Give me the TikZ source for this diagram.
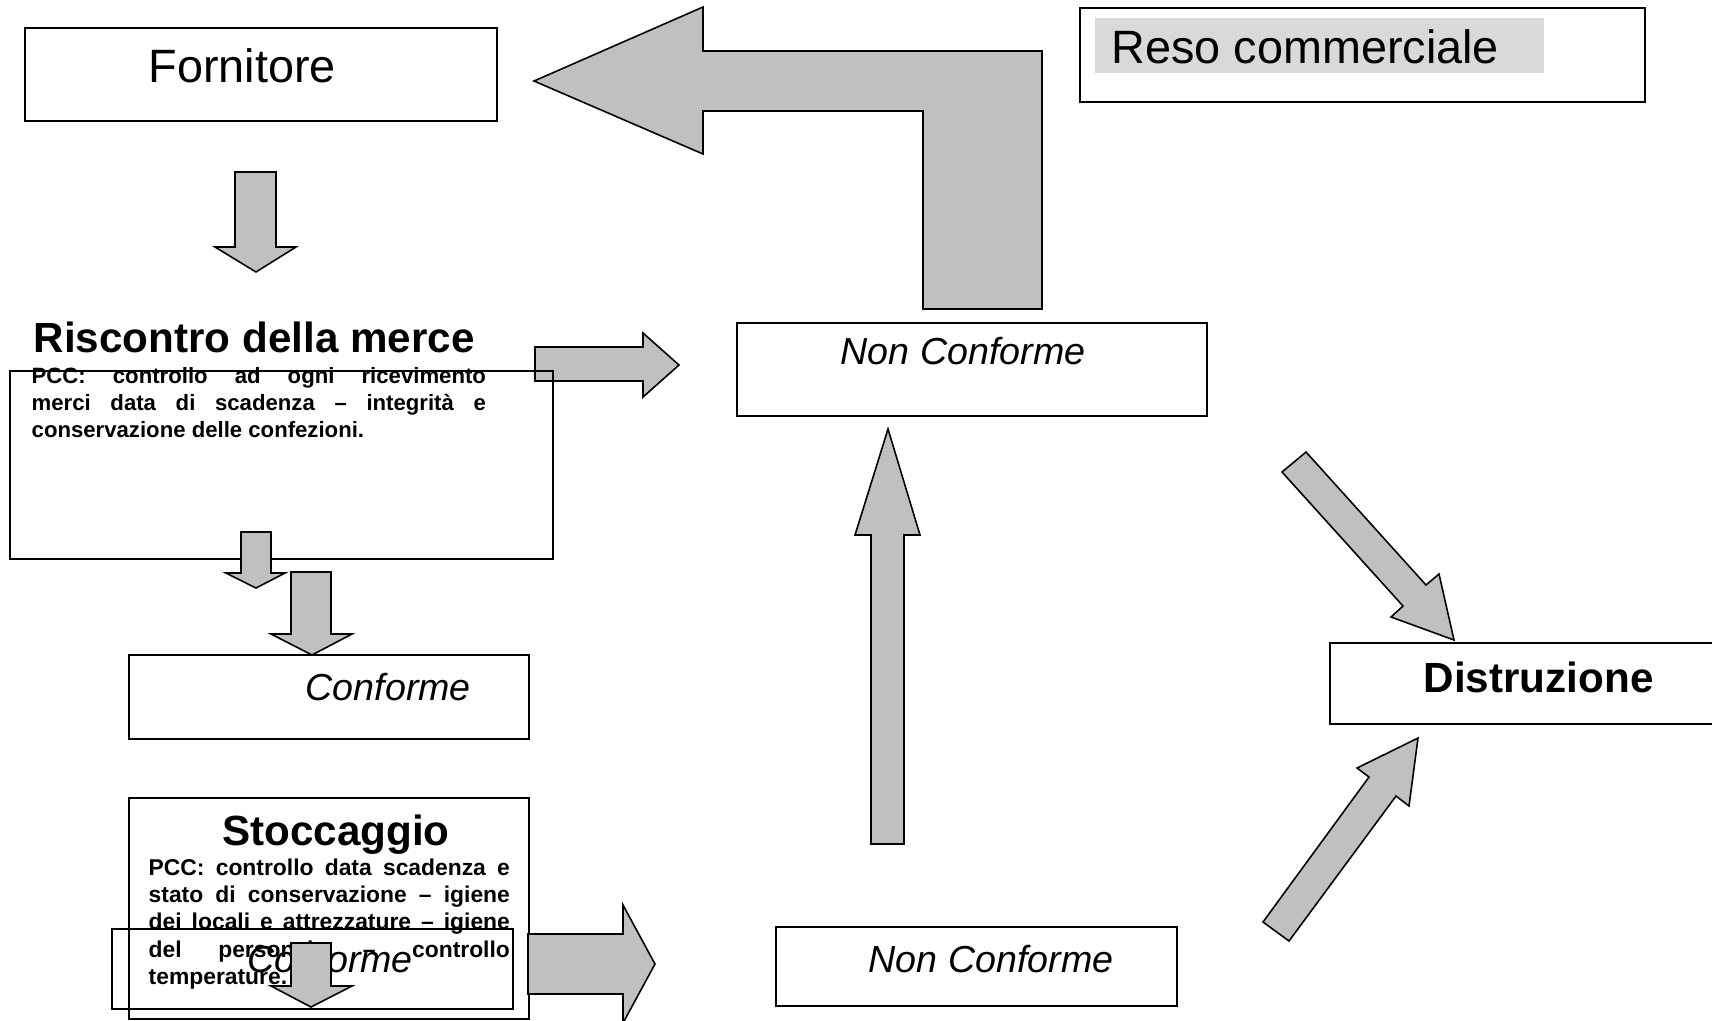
\documentclass[tikz,border=0pt]{standalone}
\usepackage{fontspec}
\setmainfont{Liberation Sans}
\usepackage{tikz}
\definecolor{arrowgray}{HTML}{C0C0C0}
\definecolor{markgray}{HTML}{D9D9D9}
\tolerance=10000
\hyphenpenalty=10000
\tikzset{
  box/.style={draw, line width=0.55pt, inner sep=0pt, anchor=north west},
  blk/.style={draw, line width=0.45pt, fill=arrowgray},
  lbl/.style={inner sep=0pt, anchor=base west},
  plain/.style={lbl, font=\fontsize{13.3}{16}\selectfont},
  head/.style={lbl, font=\fontsize{12}{14}\selectfont\bfseries},
  status/.style={lbl, font=\fontsize{10.7}{13}\selectfont\itshape},
  pcc/.style={lbl, align=justify, font=\fontsize{6.5}{7.8}\selectfont\bfseries},
}

\begin{document}
\begin{tikzpicture}[x=0.01cm, y=-0.01cm, line join=miter]
\useasboundingbox (0,0) rectangle (1712,1020);

% fornitore
\node[box, minimum width=4.72cm, minimum height=0.93cm] (forn) at (24,27) {};
\node[plain] (fornT) at (148,82) {Fornitore};
\draw[blk] (235,172) -- (276,172) -- (276,247) -- (296,247) -- (256,272) -- (215,247) -- (235,247) -- cycle;

% reso commerciale
\fill[markgray] (1095,18) rectangle (1544,73);
\node[plain] (resoT) at (1111,63) {Reso commerciale};
\node[box, minimum width=5.65cm, minimum height=0.94cm] (reso) at (1079,7) {};
\draw[blk] (534,81) -- (703,7) -- (703,51) -- (1042,51) -- (1042,309) -- (923,309)
  -- (923,111) -- (703,111) -- (703,154) -- cycle;

% riscontro della merce
\draw[blk] (535,347) -- (643,347) -- (643,333) -- (679,365) -- (643,397) -- (643,381) -- (535,381) -- cycle;
\node[head] (riscT) at (33,352) {Riscontro della merce};
\node[box, minimum width=5.43cm, minimum height=1.88cm] (risc) at (9,370) {};
\node[pcc, font=\fontsize{6.3}{7.8}\selectfont\bfseries, text width=4.54cm] (riscP) at (31,383)
  {PCC: controllo ad ogni ricevimento\linebreak merci data di scadenza – integrità e\linebreak conservazione delle confezioni.};
\draw[blk] (241,532) -- (271,532) -- (271,573) -- (285,573) -- (256,588) -- (226,573) -- (241,573) -- cycle;
\draw[blk] (291,572) -- (331,572) -- (331,634) -- (352,634) -- (312,655) -- (271,634) -- (291,634) -- cycle;

% conforme
\node[box, minimum width=4.00cm, minimum height=0.84cm] (conf) at (128,654) {};
\node[status] (confT) at (305,700) {Conforme};

% non conforme (alto)
\node[box, minimum width=4.70cm, minimum height=0.93cm] (ncA) at (736,322) {};
\node[status] (ncAT) at (840,364) {Non Conforme};
\draw[blk] (871,844) -- (871,535) -- (855,535) -- (888,429) -- (920,535) -- (904,535) -- (904,844) -- cycle;

% distruzione
\draw[blk] (1306,452) -- (1426,585) -- (1439,574) -- (1454,640) -- (1391,617) -- (1403,606) -- (1282,472) -- cycle;
\node[box, minimum width=4.00cm, minimum height=0.81cm] (dist) at (1329,642) {};
\node[head] (distT) at (1423,692) {Distruzione};
\draw[blk] (1263,922) -- (1369,777) -- (1357,768) -- (1418,738) -- (1409,806) -- (1396,796) -- (1289,941) -- cycle;

% stoccaggio
\node[box, minimum width=4.00cm, minimum height=2.21cm] (stoc) at (128,797) {};
\node[head, anchor=base] (stocT) at (336,845) {Stoccaggio};
\node[pcc, text width=3.61cm] (stocP) at (148,875)
  {PCC: controllo data scadenza e\linebreak stato di conservazione – igiene\linebreak dei locali e attrezzature – igiene\linebreak del personale – controllo\linebreak temperature.};
\node[box, minimum width=4.01cm, minimum height=0.80cm] (confB) at (111,928) {};
\node[status] (confBT) at (247,972) {Conforme};
\draw[blk] (291,943) -- (331,943) -- (331,986) -- (352,986) -- (311,1007) -- (271,986) -- (291,986) -- cycle;

% non conforme (basso)
\draw[blk] (528,934) -- (623,934) -- (623,905) -- (655,964) -- (623,1023) -- (623,994) -- (528,994) -- cycle;
\node[box, minimum width=4.01cm, minimum height=0.79cm] (ncB) at (775,926) {};
\node[status] (ncBT) at (868,972) {Non Conforme};
\end{tikzpicture}
\end{document}
